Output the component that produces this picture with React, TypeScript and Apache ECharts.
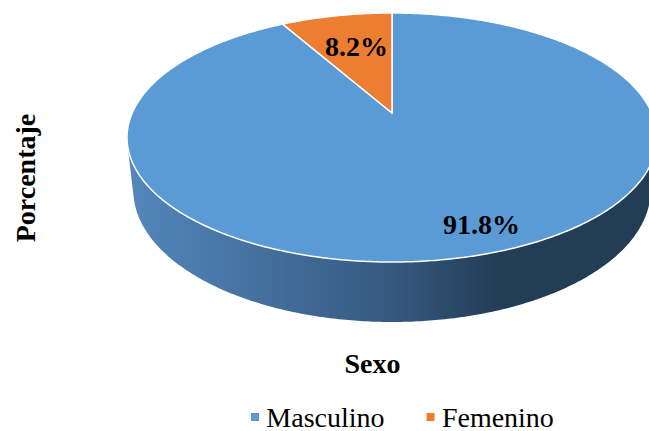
import React, { useEffect, useRef } from 'react';
import * as echarts from 'echarts';

const categories = ['Masculino', 'Femenino'];
const values = [91.8, 8.2];
const colors = ['#5B9BD5', '#ED7D31'];
const wallStops = [
  [
    { offset: 0, color: '#5487BD' },
    { offset: 0.5, color: '#35597F' },
    { offset: 0.7, color: '#243D57' },
    { offset: 1, color: '#243D57' },
  ],
  [
    { offset: 0, color: '#C0652A' },
    { offset: 1, color: '#7A3E16' },
  ],
];
const titleY = 'Porcentaje';
const titleX = 'Sexo';

const FONT = 'Liberation Serif';

// perspective projection of the pie disk
const CX = 392;
const CY = 113;
const F = 1171.7;
const D = 4.51;
const SIN_A = 0.4607;
const COS_A = 0.8876;
const H = 0.2302;

function project(theta: number, r: number, depth: number): number[] {
  const X = r * Math.sin(theta);
  const v = r * Math.cos(theta);
  const Y = v * SIN_A - depth * COS_A;
  const Z = D + v * COS_A + depth * SIN_A;
  return [CX + (F * X) / Z, CY - (F * Y) / Z];
}

const total = values.reduce((a, b) => a + b, 0);
const starts: number[] = [];
{
  let acc = 0;
  values.forEach((v) => {
    starts.push(acc);
    acc += v;
  });
}
const thetaSil = Math.acos(-1 / (D * COS_A));

function renderSlice(params: any, api: any) {
  const a0 = (api.value(0) / total) * 2 * Math.PI;
  const a1 = (api.value(1) / total) * 2 * Math.PI;
  const idx = params.seriesIndex;
  const children: any[] = [];
  const w0 = Math.max(a0, thetaSil);
  const w1 = Math.min(a1, 2 * Math.PI - thetaSil);
  if (w1 > w0) {
    const top: number[][] = [];
    const bot: number[][] = [];
    const n = Math.max(8, Math.ceil((w1 - w0) / 0.01));
    for (let i = 0; i <= n; i++) {
      const t = w0 + ((w1 - w0) * i) / n;
      top.push(project(t, 1, 0));
      bot.push(project(t, 1, H));
    }
    children.push({
      type: 'polygon',
      shape: { points: top.concat(bot.reverse()) },
      style: {
        fill: new echarts.graphic.LinearGradient(127, 0, 657, 0, wallStops[idx], true),
      },
    });
  }
  const pts: number[][] = [project(0, 0, 0)];
  const m = Math.max(4, Math.ceil((a1 - a0) / 0.01));
  for (let i = 0; i <= m; i++) {
    const t = a0 + ((a1 - a0) * i) / m;
    pts.push(project(t, 1, 0));
  }
  children.push({
    type: 'polygon',
    shape: { points: pts },
    style: { fill: colors[idx], stroke: '#ffffff', lineWidth: 1.5, lineJoin: 'round' },
  });
  return { type: 'group', children };
}

const labelPos = [
  [481.5, 224],
  [356.5, 46],
];

export default function App() {
  const ref = useRef<HTMLDivElement>(null);
  useEffect(() => {
    if (!ref.current) return;
    const chart = echarts.init(ref.current, undefined, { renderer: 'svg' });
    chart.setOption({
      animation: false,
      backgroundColor: '#ffffff',
      legend: {
        data: categories,
        left: 251,
        top: 403,
        padding: 0,
        icon: 'rect',
        itemWidth: 8,
        itemHeight: 8,
        itemGap: 42,
        selectedMode: false,
        formatter: (name: string) => '\u200A' + name,
        textStyle: {
          fontFamily: FONT,
          fontSize: 28,
          color: '#000',
        },
      },
      series: categories.map((name, i) => ({
        type: 'custom',
        name,
        coordinateSystem: 'none',
        renderItem: renderSlice,
        itemStyle: { color: colors[i] },
        data: [[starts[i], starts[i] + values[i]]],
        silent: true,
      })),
      graphic: [
        ...values.map((v, i) => ({
          type: 'text',
          x: labelPos[i][0],
          y: labelPos[i][1],
          z: 100,
          style: {
            text: v.toFixed(1) + '%',
            fontFamily: FONT,
            fontWeight: 'bold',
            fontSize: 28,
            fill: '#000',
            align: 'center',
            verticalAlign: 'middle',
          },
        })),
        {
          type: 'text',
          x: 372.5,
          y: 363,
          style: {
            text: titleX,
            fontFamily: FONT,
            fontWeight: 'bold',
            fontSize: 28,
            fill: '#000',
            align: 'center',
            verticalAlign: 'middle',
          },
        },
        {
          type: 'text',
          x: 25,
          y: 178,
          rotation: Math.PI / 2,
          style: {
            text: titleY,
            fontFamily: FONT,
            fontWeight: 'bold',
            fontSize: 28,
            fill: '#000',
            align: 'center',
            verticalAlign: 'middle',
          },
        },
      ],
    });
    return () => chart.dispose();
  }, []);
  return (
    <div
      ref={ref}
      style={{ position: 'fixed', left: 0, top: 0, width: 649, height: 431 }}
    />
  );
}
